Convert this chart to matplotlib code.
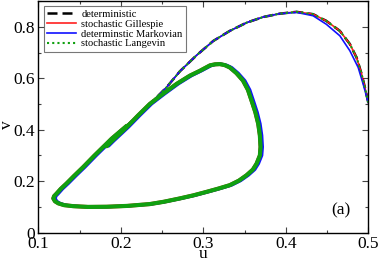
import matplotlib
matplotlib.use("Agg")
import matplotlib.pyplot as plt
from matplotlib.ticker import MultipleLocator, FormatStrFormatter

# ---- data ----
# outer (transient) arc, deterministic / Gillespie / Langevin
arc_u = [0.500, 0.4958, 0.4918, 0.4857, 0.4776, 0.4655, 0.449, 0.433, 0.413,
         0.3927, 0.3725, 0.3524, 0.332, 0.312, 0.292, 0.2715, 0.2554, 0.240,
         0.223, 0.207, 0.1887]
arc_v = [0.505, 0.565, 0.617, 0.681, 0.733, 0.784, 0.823, 0.849, 0.858,
         0.851, 0.838, 0.816, 0.784, 0.745, 0.690, 0.627, 0.565, 0.515,
         0.462, 0.415, 0.365]
# outer arc, Markovian (slightly inside on the right)
arc_u_mark = [0.500, 0.4937, 0.4877, 0.4776, 0.4655, 0.449, 0.433, 0.413,
              0.3927, 0.3725, 0.3524, 0.332, 0.312, 0.292, 0.2715, 0.2554,
              0.240, 0.223, 0.207, 0.1887]
arc_v_mark = [0.505, 0.578, 0.642, 0.707, 0.765, 0.810, 0.843, 0.856,
              0.851, 0.838, 0.816, 0.784, 0.745, 0.690, 0.627, 0.565,
              0.515, 0.462, 0.415, 0.365]
# limit cycle
cyc_u = [0.207, 0.1887, 0.1827, 0.168, 0.1543, 0.143, 0.134, 0.127, 0.122,
         0.119, 0.118, 0.120, 0.124, 0.131, 0.142, 0.160, 0.1827, 0.208,
         0.235, 0.252, 0.2715, 0.288, 0.304, 0.318, 0.332, 0.343, 0.3523,
         0.3600, 0.3645, 0.3685, 0.3693, 0.3685, 0.3665, 0.3630, 0.3584,
         0.354, 0.348, 0.340, 0.332, 0.326, 0.320, 0.314, 0.308, 0.2958,
         0.2836, 0.2675, 0.250, 0.235, 0.221, 0.207, 0.1887, 0.1827]
cyc_v = [0.415, 0.365, 0.346, 0.300, 0.255, 0.220, 0.191, 0.170, 0.152,
         0.142, 0.133, 0.122, 0.114, 0.107, 0.103, 0.100, 0.1006, 0.104,
         0.111, 0.120, 0.133, 0.145, 0.1586, 0.171, 0.1845, 0.202, 0.223,
         0.245, 0.268, 0.300, 0.333, 0.378, 0.423, 0.468, 0.513, 0.555,
         0.591, 0.620, 0.642, 0.651, 0.655, 0.654, 0.650, 0.629, 0.610,
         0.578, 0.537, 0.500, 0.456, 0.410, 0.355, 0.336]

labels = ["deterministic", "stochastic Gillespie",
          "determinstic Markovian", "stochastic Langevin"]
colors = ["black", "#ff2020", "#1010ff", "#10a010"]

plt.rcParams['font.family'] = 'serif'
plt.rcParams['font.serif'] = ['Liberation Serif', 'DejaVu Serif']

fig = plt.figure(figsize=(3.81, 2.62), dpi=100)
ax = fig.add_axes([0.101, 0.112, 0.8657, 0.884])

cyc_kw = dict(solid_capstyle='round', solid_joinstyle='round')
# deterministic (black dashed)
ax.plot(arc_u, arc_v, color=colors[0], lw=1.8, dashes=(4, 2), label=labels[0], zorder=2)
ax.plot(cyc_u, cyc_v, color=colors[0], lw=2.2, zorder=2, **cyc_kw)
# Gillespie (red)
ax.plot(arc_u, arc_v, color=colors[1], lw=1.2, label=labels[1], zorder=3)
ax.plot(cyc_u, cyc_v, color=colors[1], lw=2.8, zorder=3, **cyc_kw)
# Markovian (blue)
ax.plot(arc_u_mark, arc_v_mark, color=colors[2], lw=1.2, label=labels[2], zorder=4)
ax.plot([u + 0.0025 for u in cyc_u], cyc_v, color=colors[2], lw=2.0, zorder=4, **cyc_kw)
# Langevin (green dotted)
ax.plot(arc_u, arc_v, color=colors[3], lw=1.5, linestyle=(0, (1, 1.5)), label=labels[3], zorder=5)
ax.plot(cyc_u, cyc_v, color=colors[3], lw=3.0, zorder=5, **cyc_kw)

ax.set_xlim(0.1, 0.5)
ax.set_ylim(0, 0.9)
ax.xaxis.set_major_locator(MultipleLocator(0.1))
ax.xaxis.set_minor_locator(MultipleLocator(0.05))
ax.yaxis.set_major_locator(MultipleLocator(0.2))
ax.yaxis.set_minor_locator(MultipleLocator(0.1))
ax.xaxis.set_major_formatter(FormatStrFormatter('%g'))
ax.yaxis.set_major_formatter(FormatStrFormatter('%g'))
ax.tick_params(which='both', direction='in', top=True, right=True,
               labelsize=12.5, width=0.8, color='#444444')
ax.tick_params(which='major', length=4.3, pad=2.5)
ax.tick_params(which='minor', length=2.3)
for s in ax.spines.values():
    s.set_linewidth(1.0)

ax.set_xlabel('u', fontsize=12.5, va='baseline')
ax.xaxis.set_label_coords(0.5, -0.11)
ax.set_ylabel('v', fontsize=12.5, va='baseline')
ax.yaxis.set_label_coords(-0.083, 0.465)

ax.text(0.917, 0.098, '(a)', transform=ax.transAxes, fontsize=12.5,
        ha='center', va='center')

leg = ax.legend(loc='upper left', bbox_to_anchor=(0.016, 0.978), fontsize=7.6,
                frameon=True, fancybox=False, handlelength=2.75,
                handletextpad=0.5, labelspacing=0.05, borderpad=0.3,
                borderaxespad=0.0)
leg.get_frame().set_edgecolor('#555555')
leg.get_frame().set_linewidth(0.8)

fig.savefig('out.png', dpi=100)
